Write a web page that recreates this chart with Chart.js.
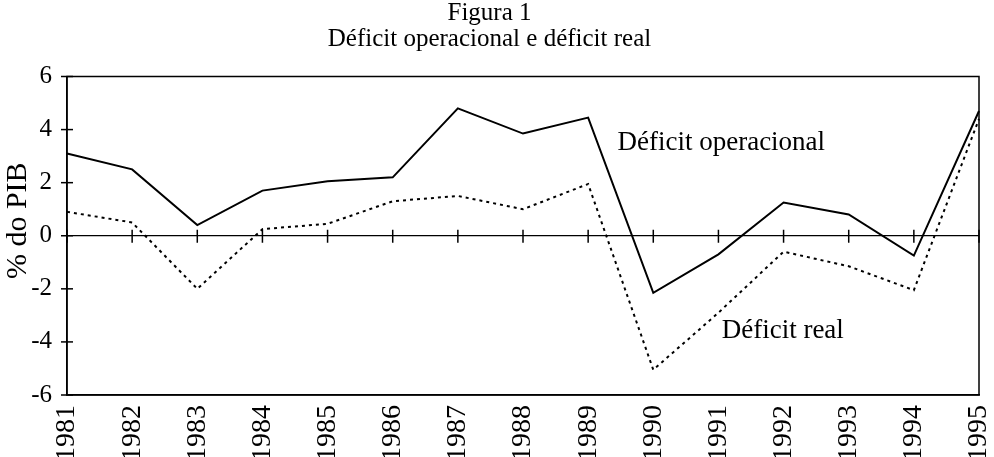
<!DOCTYPE html>
<html>
<head>
<meta charset="utf-8">
<script src="https://cdn.jsdelivr.net/npm/chart.js@4.4.1/dist/chart.umd.min.js"></script>
<style>
    html, body { margin: 0; padding: 0; background: #fff; }
    #wrap { width: 994px; height: 457px; }
</style>
</head>
<body>
<div id="wrap"><canvas id="deficitChart"></canvas></div>
<script>
const years = ['1981', '1982', '1983', '1984', '1985', '1986', '1987', '1988',
               '1989', '1990', '1991', '1992', '1993', '1994', '1995'];
const operacional = [3.1, 2.5, 0.4, 1.7, 2.05, 2.2, 4.8, 3.85, 4.45, -2.15, -0.7, 1.25, 0.8, -0.75, 4.7];
const real = [0.9, 0.5, -2.0, 0.25, 0.45, 1.3, 1.5, 1.0, 1.95, -5.05, -2.9, -0.6, -1.15, -2.05, 4.4];
const yTicks = [-6, -4, -2, 0, 2, 4, 6];

const serif = '"Liberation Serif", "Times New Roman", serif';

// frame, axis ticks and the two line labels
const framePlugin = {
    id: 'frame',
    afterDraw(chart) {
        const ctx = chart.ctx;
        const area = chart.chartArea;
        const xs = chart.scales.x;
        const ys = chart.scales.y;
        ctx.save();
        ctx.strokeStyle = '#000';
        ctx.lineWidth = 1.5;
        ctx.strokeRect(area.left, area.top, area.right - area.left, area.bottom - area.top);

        yTicks.forEach(v => {
            const y = ys.getPixelForValue(v);
            ctx.beginPath();
            ctx.moveTo(area.left - 6, y);
            ctx.lineTo(area.left + 6, y);
            ctx.stroke();
        });
        const y0 = ys.getPixelForValue(0);
        years.forEach((yr, i) => {
            const x = xs.getPixelForValue(i);
            ctx.beginPath();
            ctx.moveTo(x, y0 - 6);
            ctx.lineTo(x, y0 + 7);
            ctx.stroke();
        });

        ctx.fillStyle = '#000';
        ctx.font = '27px ' + serif;
        ctx.textBaseline = 'middle';
        ctx.textAlign = 'left';
        ctx.fillText('Déficit operacional', xs.getPixelForValue(8.45), ys.getPixelForValue(3.5));
        ctx.fillText('Déficit real', xs.getPixelForValue(10.05), ys.getPixelForValue(-3.6));
        ctx.restore();
    }
};

const ctx = document.getElementById('deficitChart').getContext('2d');
const deficitChart = new Chart(ctx, {
    type: 'line',
    data: {
        labels: years,
        datasets: [{
            label: 'Déficit operacional',
            data: operacional,
            borderColor: '#000',
            borderWidth: 2,
            pointRadius: 0,
            tension: 0
        }, {
            label: 'Déficit real',
            data: real,
            borderColor: '#000',
            borderWidth: 2,
            borderDash: [3, 4],
            pointRadius: 0,
            tension: 0
        }]
    },
    options: {
        responsive: true,
        maintainAspectRatio: false,
        animation: false,
        layout: {
            padding: { top: 0, right: 15, bottom: 0, left: 0 }
        },
        plugins: {
            legend: { display: false },
            tooltip: { enabled: false },
            title: {
                display: true,
                text: ['Figura 1', 'Déficit operacional e déficit real'],
                color: '#000',
                font: { family: serif, size: 25, weight: 'normal', lineHeight: 1.05 },
                padding: { top: 0, bottom: 24 }
            }
        },
        scales: {
            x: {
                grid: { display: false, drawTicks: false },
                border: { display: true, color: '#000', width: 1.5 },
                ticks: {
                    color: '#000',
                    font: { family: serif, size: 28 },
                    minRotation: 90,
                    maxRotation: 90,
                    autoSkip: false,
                    padding: 10
                },
                afterFit(scale) {
                    scale.height = 62;
                    scale.paddingLeft = 0;
                    scale.paddingRight = 0;
                }
            },
            y: {
                min: -6,
                max: 6,
                afterBuildTicks(scale) {
                    scale.ticks = yTicks.map(v => ({ value: v }));
                },
                grid: {
                    drawTicks: false,
                    lineWidth: 1.2,
                    color: c => (c.tick && c.tick.value === 0 ? '#000' : 'rgba(0,0,0,0)')
                },
                border: { display: true, color: '#000', width: 1.5 },
                ticks: {
                    color: '#000',
                    font: { family: serif, size: 25 },
                    padding: 15
                },
                title: {
                    display: true,
                    text: '    % do PIB',
                    color: '#000',
                    font: { family: serif, size: 30 },
                    padding: { top: 0, bottom: 0 }
                },
                afterFit(scale) {
                    scale.width = 67;
                    scale.paddingTop = 0;
                    scale.paddingBottom = 0;
                }
            }
        }
    },
    plugins: [framePlugin]
});
</script>
</body>
</html>
